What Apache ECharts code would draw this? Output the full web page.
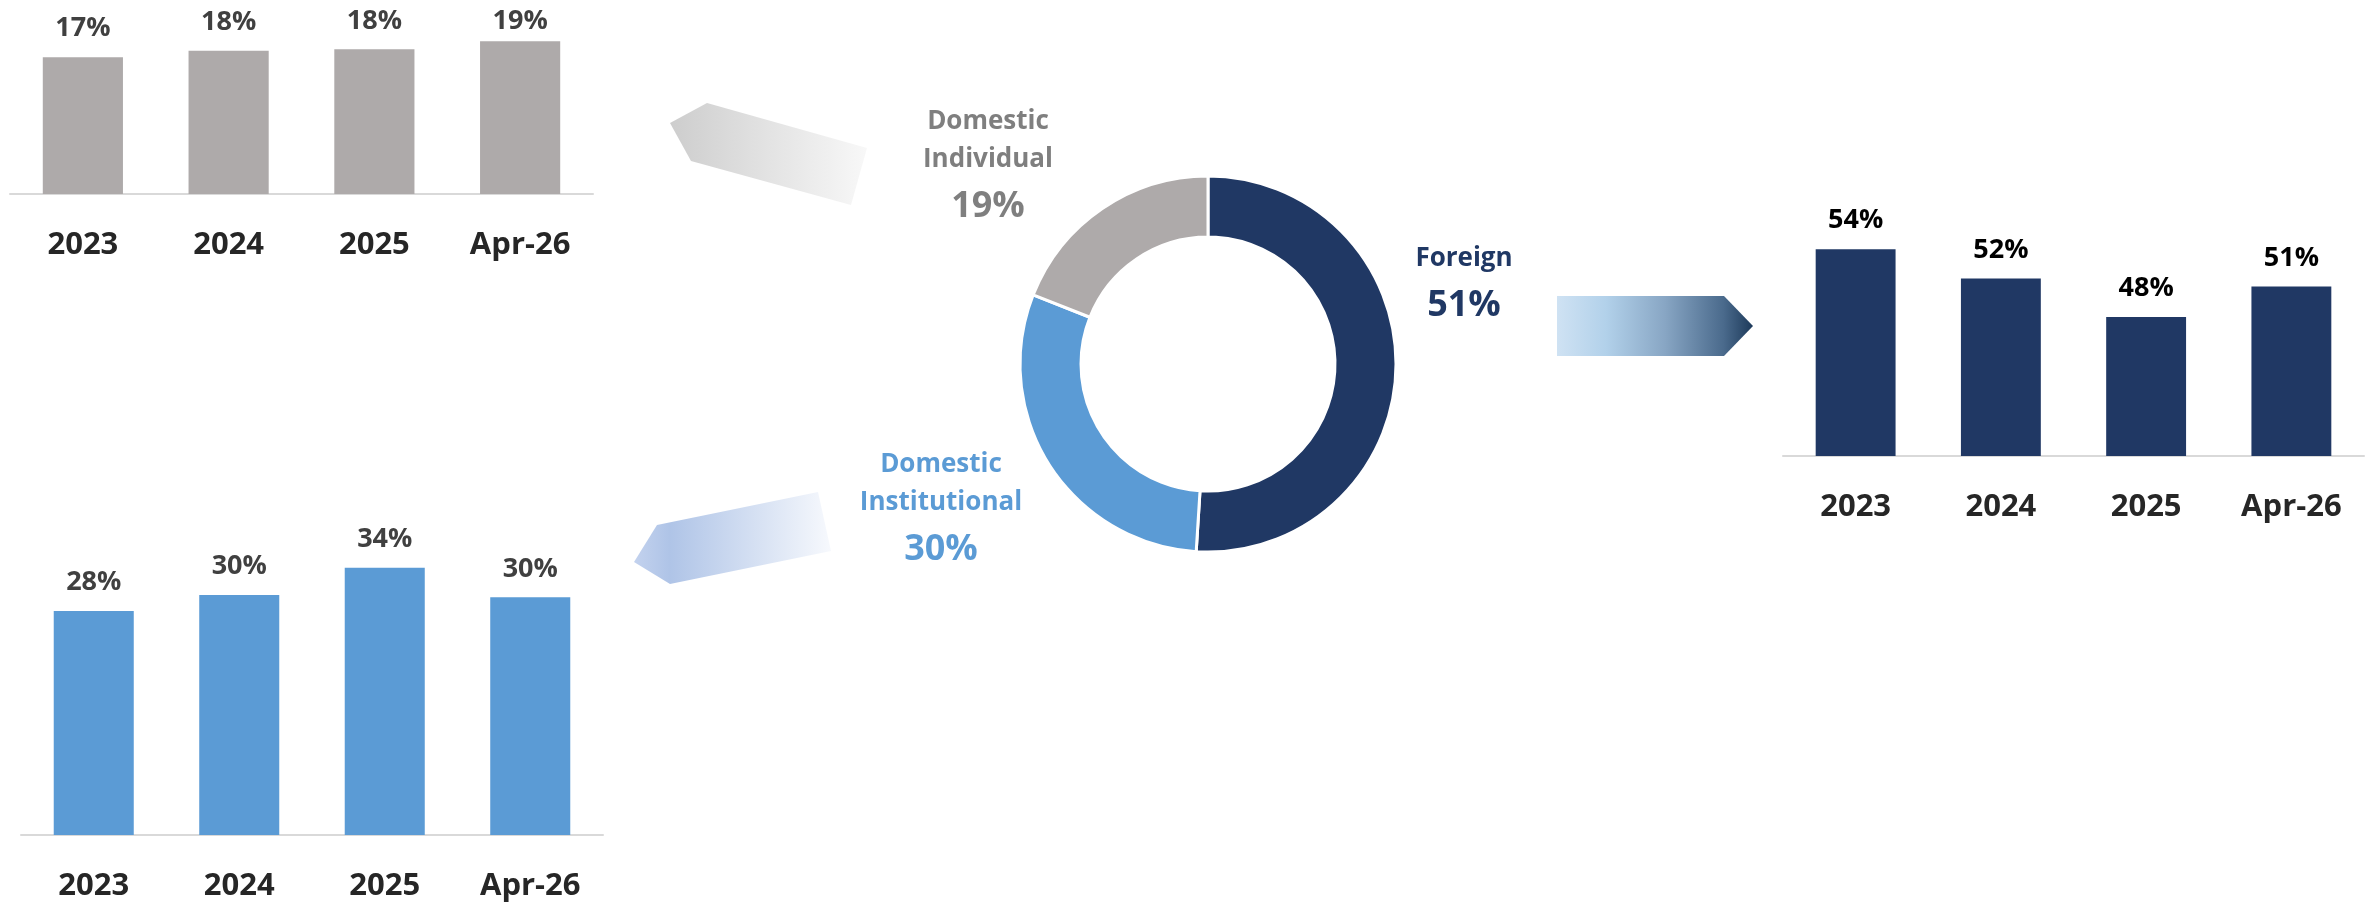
<!DOCTYPE html>
<html>
<head>
<meta charset="utf-8">
<script src="https://cdn.jsdelivr.net/npm/echarts@6/dist/echarts.min.js"></script>
<style>
html,body{margin:0;padding:0;background:#fff;}
#chart{width:2374px;height:902px;}
</style>
</head>
<body>
<div id="chart"></div>
<script>
// ---- data ----
const categories = ['2023', '2024', '2025', 'Apr-26'];
const individualShare = [17.1, 17.9, 18.1, 19.1];      // Domestic Individual, %
const institutionalShare = [28.1, 30.1, 33.5, 29.8];   // Domestic Institutional, %
const foreignShare = [54.3, 51.7, 48.3, 51.0];         // Foreign, %
const currentNames = ['Foreign', 'Domestic Institutional', 'Domestic Individual'];
const currentShare = [51, 30, 19];                     // Apr-26 split, %

// ---- styling ----
const FONT = '"Open Sans", "Noto Sans", sans-serif';
const NAVY = '#203864', BLUE = '#5B9BD5', GRAY = '#AEAAAA';
const sliceColors = [NAVY, BLUE, GRAY];
const labelTextColors = ['#203864', '#5B9BD5', '#7F7F7F'];
const labelAnchors = [[1464, 287], [941, 512], [988, 169]];
const LABEL_MIN_CENTER_Y = 21;  // labels are kept inside the chart area, like the original

const chart = echarts.init(document.getElementById('chart'), null, {renderer: 'canvas'});

function xAx(gridIndex) {
  return {
    type: 'category', gridIndex, data: categories,
    axisLine: {lineStyle: {color: '#D9D9D9', width: 2}},
    axisTick: {show: false},
    axisLabel: {
      margin: 36, fontSize: 31, fontWeight: 'bold', fontFamily: FONT,
      color: '#262626', interval: 0
    }
  };
}
function yAx(gridIndex, min, max) {
  return {type: 'value', gridIndex, min, max, show: false, splitLine: {show: false}};
}
function barSeries(idx, values, color, labelColor) {
  return {
    type: 'bar', xAxisIndex: idx, yAxisIndex: idx, data: values,
    barWidth: '55%',
    itemStyle: {color},
    label: {
      show: true, position: 'top', distance: 15,
      fontSize: 27, fontWeight: 'bold', fontFamily: FONT, color: labelColor,
      formatter: p => Math.round(p.value) + '%'
    },
    labelLayout: p => {
      const cy = p.labelRect.y + p.labelRect.height / 2;
      if (cy < LABEL_MIN_CENTER_Y) {
        return {x: p.labelRect.x + p.labelRect.width / 2, y: LABEL_MIN_CENTER_Y,
                align: 'center', verticalAlign: 'middle'};
      }
      return {};
    },
    silent: true, animation: false
  };
}

const pieData = currentNames.map((n, i) => ({
  name: n, value: currentShare[i],
  itemStyle: {color: sliceColors[i]},
  label: {color: labelTextColors[i], rich: {
    n: {fontSize: 26, fontWeight: 'bold', fontFamily: FONT, color: labelTextColors[i], lineHeight: 38, align: 'center'},
    v: {fontSize: 36, fontWeight: 'bold', fontFamily: FONT, color: labelTextColors[i], lineHeight: 56, align: 'center'}
  }}
}));

const option = {
  backgroundColor: '#ffffff',
  animation: false,
  grid: [
    {left: 10, width: 583, top: 2, bottom: 708},     // Domestic Individual
    {left: 21, width: 582, top: 516, bottom: 66},    // Domestic Institutional
    {left: 1783, width: 581, top: 230, bottom: 446}  // Foreign
  ],
  xAxis: [xAx(0), xAx(1), xAx(2)],
  yAxis: [yAx(0, 0, 24), yAx(1, 0, 40), yAx(2, 36, 56)],
  series: [
    barSeries(0, individualShare, GRAY, '#404040'),
    barSeries(1, institutionalShare, BLUE, '#404040'),
    barSeries(2, foreignShare, NAVY, '#000000'),
    {
      type: 'pie', center: [1208, 364], radius: [127, 188],
      startAngle: 90, clockwise: true, silent: true,
      itemStyle: {borderColor: '#ffffff', borderWidth: 3},
      data: pieData,
      label: {
        show: true, position: 'outside',
        formatter: p => '{n|' + p.name.replace(' ', '\n') + '}\n{v|' + p.value + '%}'
      },
      labelLine: {show: false},
      labelLayout: p => ({
        x: labelAnchors[p.dataIndex][0], y: labelAnchors[p.dataIndex][1],
        align: 'center', verticalAlign: 'middle'
      })
    }
  ],
  graphic: [
    { // grey arrow (Domestic Individual)
      type: 'polygon', silent: true,
      shape: {points: [[670, 123], [707, 103], [867, 148], [851, 205], [691, 161]]},
      style: {fill: new echarts.graphic.LinearGradient(0, 0, 1, 0, [
        {offset: 0, color: '#CDCDCD'}, {offset: 0.5, color: '#E3E3E3'}, {offset: 1, color: '#F8F8F8'}])}
    },
    { // blue arrow (Domestic Institutional)
      type: 'polygon', silent: true,
      shape: {points: [[634, 562], [657, 525], [818, 492], [831, 551], [670, 584]]},
      style: {fill: new echarts.graphic.LinearGradient(0, 0, 1, 0, [
        {offset: 0, color: '#C3D2EE'}, {offset: 0.18, color: '#AFC4E7'}, {offset: 1, color: '#F7F9FD'}])}
    },
    { // navy arrow (Foreign)
      type: 'polygon', silent: true,
      shape: {points: [[1557, 296], [1724, 296], [1753, 326], [1724, 356], [1557, 356]]},
      style: {fill: new echarts.graphic.LinearGradient(0, 0, 1, 0, [
        {offset: 0, color: '#CFE2F3'}, {offset: 0.25, color: '#B2D1EA'},
        {offset: 0.55, color: '#88A6C4'}, {offset: 0.85, color: '#4A6A8C'}, {offset: 1, color: '#1D3A5A'}])}
    }
  ]
};
chart.setOption(option);
</script>
</body>
</html>
